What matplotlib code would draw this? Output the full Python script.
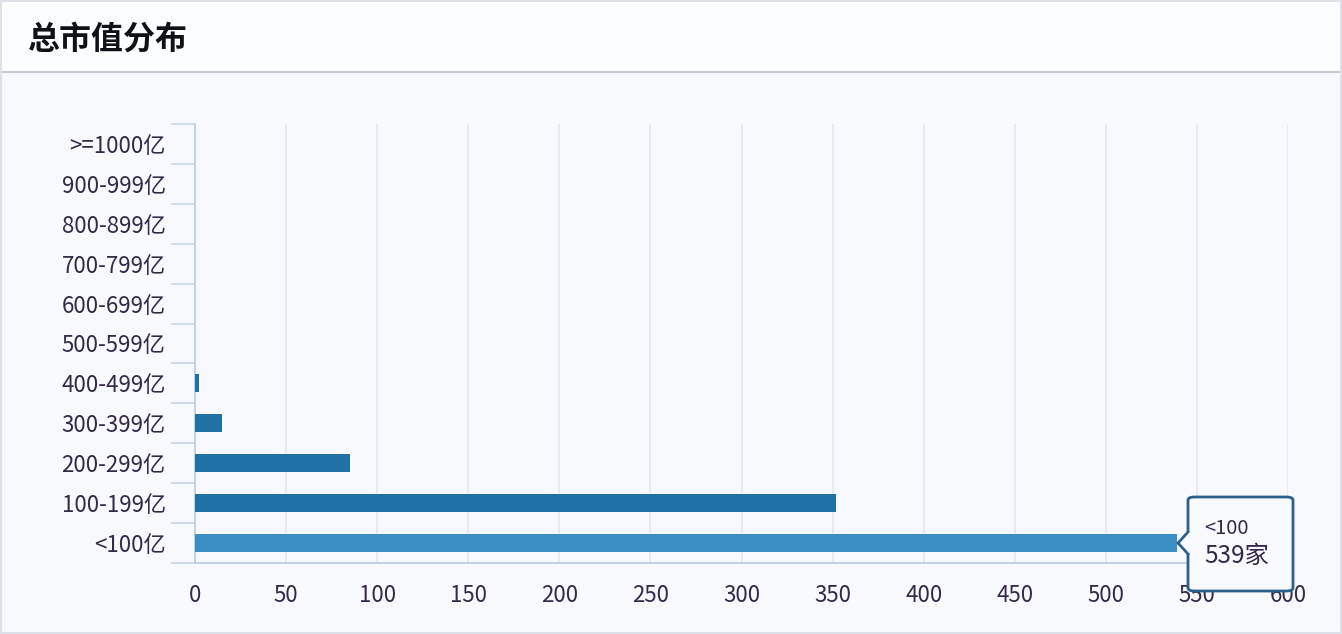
import matplotlib
matplotlib.use("Agg")
import matplotlib.pyplot as plt
from matplotlib.patches import Rectangle, FancyBboxPatch, Polygon
from matplotlib.ticker import FixedLocator
import numpy as np

plt.rcParams['font.family'] = ['Noto Sans CJK SC', 'DejaVu Sans']

# data
categories = ["<100亿", "100-199亿", "200-299亿", "300-399亿", "400-499亿",
              "500-599亿", "600-699亿", "700-799亿", "800-899亿", "900-999亿", ">=1000亿"]
counts = [539, 352, 85, 15, 2, 0, 0, 0, 0, 0, 0]
x_ticks = [0, 50, 100, 150, 200, 250, 300, 350, 400, 450, 500, 550, 600]
tip_label = "<100"
tip_value = "539家"

W, H = 1342, 634
fig = plt.figure(figsize=(W / 100, H / 100), dpi=100)
fig.patch.set_facecolor('#f7f9fd')

# header panel and outer border
fig.patches.append(Rectangle((0, 1 - 72 / H), 1, 72 / H, transform=fig.transFigure,
                             facecolor='#fcfdff', edgecolor='none', zorder=0))
fig.add_artist(plt.Line2D([0, 1], [1 - 72 / H, 1 - 72 / H], transform=fig.transFigure,
                          color='#c5cad4', lw=1.5))
fig.patches.append(Rectangle((0.001, 0.002), 0.998, 0.996, transform=fig.transFigure,
                             facecolor='none', edgecolor='#dde1e8', lw=1.5, zorder=5))
fig.text(27 / W, 1 - 40 / H, "总市值分布", fontsize=23, fontweight='bold',
         color='#111118', va='center', ha='left')

ax = fig.add_axes([195 / W, 1 - 563 / H, (1288 - 195) / W, (563 - 124) / H])
ax.set_facecolor('none')

y = np.arange(len(categories))
colors = ['#3a8fc5'] + ['#2071a6'] * (len(categories) - 1)
ax.barh(y, counts, height=0.45, color=colors, zorder=3)

ax.set_xlim(0, 600)
ax.set_ylim(-0.5, len(categories) - 0.5)
ax.set_xticks(x_ticks)
ax.set_xticklabels([str(t) for t in x_ticks])
ax.set_yticks(y)
ax.set_yticklabels(categories)
ax.yaxis.set_minor_locator(FixedLocator(np.arange(-0.5, len(categories), 1.0)))

ax.grid(axis='x', color='#e3e8f2', lw=1.2, zorder=0)
for s in ['top', 'right']:
    ax.spines[s].set_visible(False)
for s in ['left', 'bottom']:
    ax.spines[s].set_color('#bccbe0')
    ax.spines[s].set_linewidth(1.2)

ax.tick_params(axis='y', which='major', length=0, pad=21, labelsize=16, labelcolor='#35294a')
ax.tick_params(axis='y', which='minor', length=17, width=1.1, color='#c8d3e3', direction='out')
ax.tick_params(axis='x', which='major', length=0, pad=15, labelsize=16, labelcolor='#35294a')

# tooltip
tx0, tx1 = 1188, 1293
ty0, ty1 = 497, 591
def fx(px):
    return px / W
def fy(py):
    return 1 - py / H
box = FancyBboxPatch((fx(tx0), fy(ty1)), fx(tx1) - fx(tx0), fy(ty0) - fy(ty1),
                     boxstyle="round,pad=0,rounding_size=0.005", transform=fig.transFigure,
                     facecolor='#f8fafd', edgecolor='#2a5f8e', lw=2, zorder=10)
fig.patches.append(box)
arrow = Polygon([(fx(tx0 + 1), fy(531)), (fx(1178), fy(543)), (fx(tx0 + 1), fy(555))],
                closed=False, transform=fig.transFigure, facecolor='#f8fafd',
                edgecolor='#2a5f8e', lw=2, zorder=11)
fig.patches.append(arrow)
fig.patches.append(Polygon([(fx(tx0 + 2), fy(532)), (fx(1181), fy(543)), (fx(tx0 + 2), fy(554))],
                           transform=fig.transFigure, facecolor='#f8fafd', edgecolor='none', zorder=12))
fig.text(fx(1204), fy(528), tip_label, fontsize=14.5, color='#35294a', va='center', ha='left', zorder=13)
fig.text(fx(1204), fy(556), tip_value, fontsize=17.5, color='#35294a', va='center', ha='left', zorder=13)

fig.savefig("out.png", dpi=100, facecolor=fig.get_facecolor())
